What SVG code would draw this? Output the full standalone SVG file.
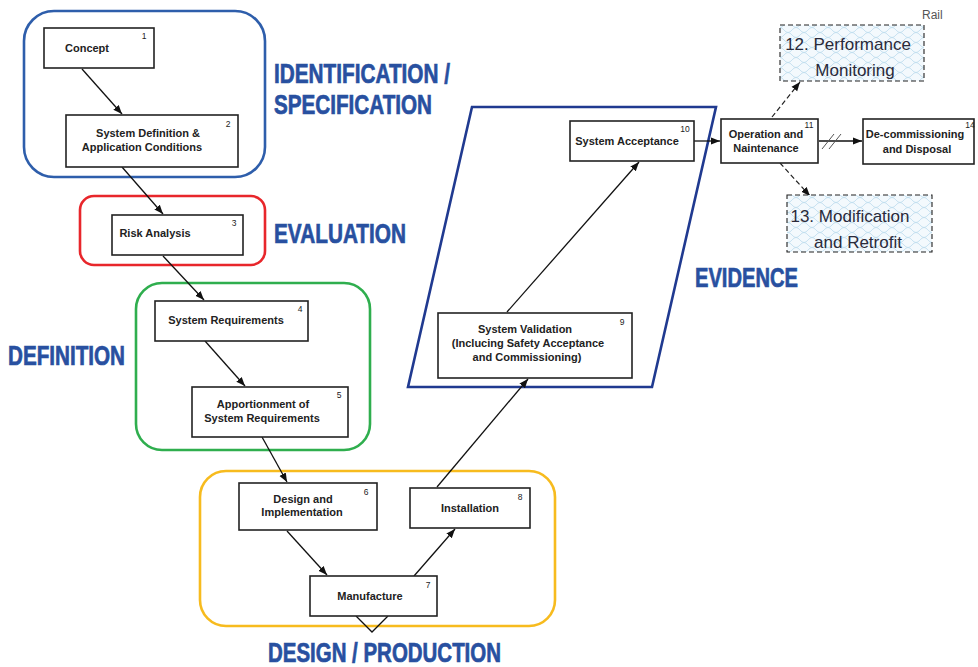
<svg xmlns="http://www.w3.org/2000/svg" width="978" height="667" viewBox="0 0 978 667">
<defs>
<style>
.box{fill:#fff;stroke:#222;stroke-width:1.6}
.lbl{font-family:"Liberation Sans",Arial,sans-serif;font-weight:bold;font-size:11px;fill:#222;text-anchor:middle}
.num{font-family:"Liberation Sans",Arial,sans-serif;font-size:8.5px;fill:#222;text-anchor:middle}
.head{font-family:"Liberation Sans",Arial,sans-serif;font-weight:bold;font-size:27px;fill:#2850a0;stroke:#2850a0;stroke-width:0.7}
.con{fill:none;stroke:#111;stroke-width:1.3}
.dash{fill:none;stroke:#222;stroke-width:1.2;stroke-dasharray:5 3}
.dbox{fill:url(#scale);stroke:#222;stroke-width:1.1;stroke-dasharray:5 3}
.big{font-family:"Liberation Sans",Arial,sans-serif;font-size:17px;fill:#2a2a3a;text-anchor:middle}
.grp{fill:none;stroke-width:2.6}
</style>
<marker id="ah" viewBox="0 0 10 10" refX="10" refY="5" markerWidth="9" markerHeight="9" markerUnits="userSpaceOnUse" orient="auto">
<path d="M0,1 L10,5 L0,9 Z" fill="#111"/>
</marker>
<pattern id="scale" width="16" height="10" patternUnits="userSpaceOnUse">
<rect width="16" height="10" fill="#f3f9fd"/>
<path d="M0,5 Q4,0 8,5 Q12,10 16,5 M-8,10 Q-4,5 0,10 M8,10 Q12,5 16,10 M0,0 Q4,5 8,0" fill="none" stroke="#bcdcee" stroke-width="0.8"/>
</pattern>
</defs>
<rect width="978" height="667" fill="#fff"/>

<g id="groups">
<rect x="24" y="11" width="241" height="166" rx="30" class="grp" stroke="#2e5eab"/>
<rect x="80" y="196" width="185" height="69" rx="14" class="grp" stroke="#e8262b"/>
<rect x="136" y="283" width="234" height="167" rx="26" class="grp" stroke="#2fae4e"/>
<rect x="200" y="471" width="355" height="155" rx="26" class="grp" stroke="#f7bb1e"/>
<polygon points="472,107 716,107 652,387 408,387" fill="none" stroke="#203a90" stroke-width="2.6"/>
</g>

<g id="headings">
<text class="head" x="274" y="83" textLength="176" lengthAdjust="spacingAndGlyphs">IDENTIFICATION /</text>
<text class="head" x="274" y="114" textLength="158" lengthAdjust="spacingAndGlyphs">SPECIFICATION</text>
<text class="head" x="274" y="243" textLength="132" lengthAdjust="spacingAndGlyphs">EVALUATION</text>
<text class="head" x="8" y="365" textLength="117" lengthAdjust="spacingAndGlyphs">DEFINITION</text>
<text class="head" x="695" y="287" textLength="103" lengthAdjust="spacingAndGlyphs">EVIDENCE</text>
<text class="head" x="268" y="662" font-size="26" textLength="233" lengthAdjust="spacingAndGlyphs">DESIGN / PRODUCTION</text>
</g>

<g id="connectors">
<line x1="82" y1="69" x2="122" y2="114" class="con" marker-end="url(#ah)"/>
<line x1="122" y1="167" x2="163" y2="214" class="con" marker-end="url(#ah)"/>
<line x1="163" y1="256" x2="204" y2="300" class="con" marker-end="url(#ah)"/>
<line x1="205" y1="341" x2="245" y2="386" class="con" marker-end="url(#ah)"/>
<line x1="262" y1="437" x2="287" y2="482" class="con" marker-end="url(#ah)"/>
<line x1="287" y1="531" x2="327" y2="575" class="con" marker-end="url(#ah)"/>
<line x1="414" y1="576" x2="455" y2="529" class="con" marker-end="url(#ah)"/>
<polyline points="356,616 372,632 388,616" class="con"/>
<line x1="437" y1="487" x2="528" y2="379" class="con" marker-end="url(#ah)"/>
<line x1="507" y1="312" x2="639" y2="162" class="con" marker-end="url(#ah)"/>
<line x1="694" y1="141" x2="720" y2="141" class="con" marker-end="url(#ah)"/>
<line x1="819" y1="141" x2="862" y2="141" class="con" marker-end="url(#ah)"/>
<line x1="822" y1="149" x2="834" y2="134" stroke="#555" stroke-width="1"/>
<line x1="829" y1="149" x2="841" y2="134" stroke="#555" stroke-width="1"/>
<line x1="772" y1="117" x2="800" y2="82" class="dash" marker-end="url(#ah)"/>
<line x1="780" y1="163" x2="810" y2="196" class="dash" marker-end="url(#ah)"/>
</g>

<g id="n1"><rect x="44" y="28" width="110" height="40" class="box"/><text class="lbl" x="87" y="52">Concept</text><text class="num" x="144" y="39">1</text></g>
<g id="n2"><rect x="66" y="115" width="172" height="52" class="box"/><text class="lbl" x="148" y="137">System Definition &amp;</text><text class="lbl" x="142" y="151">Application Conditions</text><text class="num" x="228" y="127">2</text></g>
<g id="n3"><rect x="112" y="215" width="131" height="40" class="box"/><text class="lbl" x="155" y="237">Risk Analysis</text><text class="num" x="234" y="226">3</text></g>
<g id="n4"><rect x="155" y="301" width="153" height="40" class="box"/><text class="lbl" x="226" y="324">System Requirements</text><text class="num" x="300" y="312">4</text></g>
<g id="n5"><rect x="192" y="387" width="156" height="50" class="box"/><text class="lbl" x="263" y="408">Apportionment of</text><text class="lbl" x="262" y="422">System Requirements</text><text class="num" x="339" y="398">5</text></g>
<g id="n6"><rect x="239" y="483" width="138" height="47" class="box"/><text class="lbl" x="303" y="503">Design and</text><text class="lbl" x="302" y="516">Implementation</text><text class="num" x="366" y="495">6</text></g>
<g id="n7"><rect x="310" y="576" width="127" height="40" class="box"/><text class="lbl" x="370" y="600">Manufacture</text><text class="num" x="428" y="588">7</text></g>
<g id="n8"><rect x="410" y="488" width="120" height="40" class="box"/><text class="lbl" x="470" y="512">Installation</text><text class="num" x="520" y="500">8</text></g>
<g id="n9"><rect x="438" y="313" width="194" height="65" class="box"/><text class="lbl" x="525" y="333">System Validation</text><text class="lbl" x="528" y="347">(Inclucing Safety Acceptance</text><text class="lbl" x="527" y="361">and Commissioning)</text><text class="num" x="622" y="325">9</text></g>
<g id="n10"><rect x="570" y="121" width="124" height="40" class="box"/><text class="lbl" x="627" y="145">System Acceptance</text><text class="num" x="685" y="132">10</text></g>
<g id="n11"><rect x="721" y="119" width="97" height="44" class="box"/><text class="lbl" x="766" y="138">Operation and</text><text class="lbl" x="766" y="152">Naintenance</text><text class="num" x="809" y="128">11</text></g>
<g id="n14"><rect x="863" y="119" width="111" height="45" class="box"/><text class="lbl" x="915" y="138">De-commissioning</text><text class="lbl" x="917" y="153">and Disposal</text><text class="num" x="970" y="128">14</text></g>
<g id="n12"><rect x="780" y="25" width="144" height="56" class="dbox"/><text class="big" x="848" y="50">12. Performance</text><text class="big" x="855" y="76">Monitoring</text></g>
<g id="n13"><rect x="787" y="195" width="145" height="57" class="dbox"/><text class="big" x="850" y="222">13. Modification</text><text class="big" x="858" y="248">and Retrofit</text></g>
<text x="922" y="19" font-family="Liberation Sans, Arial, sans-serif" font-size="12" fill="#555">Rail</text>
</svg>
